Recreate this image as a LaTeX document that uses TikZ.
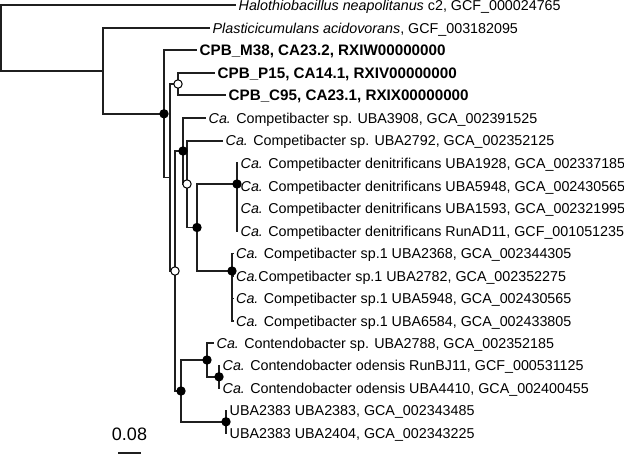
\documentclass[tikz,border=0pt]{standalone}
\usepackage{fontspec}
\setmainfont{Liberation Sans}
\begin{document}
\begin{tikzpicture}[x=1pt,y=-1pt,
		branch/.style={line width=1.6pt,black!88},
		leaf/.style={anchor=base west,inner sep=0pt,xshift=2.5pt,yshift=-5.2pt,font=\fontsize{14.3}{16}\selectfont},
		cpb/.style={leaf,font=\fontsize{15.2}{17}\selectfont\bfseries},
		supfull/.style={circle,fill=black,inner sep=0pt,minimum size=9.4pt},
		supopen/.style={circle,draw=black,fill=white,line width=1pt,inner sep=0pt,minimum size=8.4pt}]
		
		\useasboundingbox (0,0) rectangle (624,456);
		
		\coordinate (t1) at (236,5);
		\coordinate (t2) at (210,28);
		\coordinate (t3) at (197,50);
		\coordinate (t4) at (215,73);
		\coordinate (t5) at (226,95);
		\coordinate (t6) at (206,118);
		\coordinate (t7) at (223,140.7);
		\coordinate (t8) at (238,163);
		\coordinate (t9) at (238,186);
		\coordinate (t10) at (238,208.5);
		\coordinate (t11) at (238,231);
		\coordinate (t12) at (233.5,253.5);
		\coordinate (t13) at (233.5,276);
		\coordinate (t14) at (233.5,298.5);
		\coordinate (t15) at (233.5,321);
		\coordinate (t16) at (214,343);
		\coordinate (t17) at (220,365.5);
		\coordinate (t18) at (220,388);
		\coordinate (t19) at (227,410.5);
		\coordinate (t20) at (227,433);
		
		\coordinate (root) at (1,38);
		\coordinate (out) at (103,70.9);
		\coordinate (cpb) at (164,113.8);
		\coordinate (core) at (170,177.5);
		\coordinate (pair) at (178,84);
		\coordinate (ca) at (175,271);
		\coordinate (comp) at (183,151);
		\coordinate (compb) at (187,184);
		\coordinate (compc) at (197,227.5);
		\coordinate (deni) at (237,184);
		\coordinate (spone) at (232,271);
		\coordinate (cont) at (181,391);
		\coordinate (contb) at (207,360);
		\coordinate (oden) at (219,376.8);
		\coordinate (uba) at (226,421.8);
		
		\draw[branch] (root) |- (t1);
		\draw[branch] (root) |- (out);
		\draw[branch] (out) |- (t2);
		\draw[branch] (out) |- (cpb);
		\draw[branch] (cpb) |- (t3);
		\draw[branch] (cpb) |- (core);
		\draw[branch] (core) |- (pair);
		\draw[branch] (core) |- (ca);
		\draw[branch] (pair) |- (t4);
		\draw[branch] (pair) |- (t5);
		\draw[branch] (ca) |- (comp);
		\draw[branch] (ca) |- (cont);
		\draw[branch] (comp) |- (t6);
		\draw[branch] (comp) |- (compb);
		\draw[branch] (compb) |- (t7);
		\draw[branch] (compb) |- (compc);
		\draw[branch] (compc) |- (deni);
		\draw[branch] (compc) |- (spone);
		\draw[branch] (deni) |- (t8);
		\draw[branch] (deni) |- (t9);
		\draw[branch] (deni) |- (t10);
		\draw[branch] (deni) |- (t11);
		\draw[branch] (spone) |- (t12);
		\draw[branch] (spone) |- (t13);
		\draw[branch] (spone) |- (t14);
		\draw[branch] (spone) |- (t15);
		\draw[branch] (cont) |- (contb);
		\draw[branch] (cont) |- (uba);
		\draw[branch] (contb) |- (t16);
		\draw[branch] (contb) |- (oden);
		\draw[branch] (oden) |- (t17);
		\draw[branch] (oden) |- (t18);
		\draw[branch] (uba) |- (t19);
		\draw[branch] (uba) |- (t20);
		
		\node[supfull] (ncpb) at (cpb) {};
		\node[supopen] (npair) at (pair) {};
		\node[supopen] (nca) at (ca) {};
		\node[supfull] (ncomp) at (comp) {};
		\node[supopen] (ncompb) at (compb) {};
		\node[supfull] (ncompc) at (compc) {};
		\node[supfull] (ndeni) at (deni) {};
		\node[supfull] (nspone) at (spone) {};
		\node[supfull] (ncont) at (cont) {};
		\node[supfull] (ncontb) at (contb) {};
		\node[supfull] (noden) at (oden) {};
		\node[supfull] (nuba) at (uba) {};
		
		\node[leaf] (l1) at (t1) {\textit{Halothiobacillus neapolitanus} c2, GCF\_000024765};
		\node[leaf] (l2) at (t2) {\textit{Plasticicumulans acidovorans}, GCF\_003182095};
		\node[cpb] (l3) at (t3) {CPB\_M38, CA23.2, RXIW00000000};
		\node[cpb] (l4) at (t4) {CPB\_P15, CA14.1, RXIV00000000};
		\node[cpb] (l5) at (t5) {CPB\_C95, CA23.1, RXIX00000000};
		\node[leaf] (l6) at (t6) {{\itshape Ca.} Competibacter sp. UBA3908, GCA\_002391525};
		\node[leaf] (l7) at (t7) {{\itshape Ca.} Competibacter sp. UBA2792, GCA\_002352125};
		\node[leaf] (l8) at (t8) {{\itshape Ca.} Competibacter denitrificans UBA1928, GCA\_002337185};
		\node[leaf] (l9) at (t9) {{\itshape Ca.} Competibacter denitrificans UBA5948, GCA\_002430565};
		\node[leaf] (l10) at (t10) {{\itshape Ca.} Competibacter denitrificans UBA1593, GCA\_002321995};
		\node[leaf] (l11) at (t11) {{\itshape Ca.} Competibacter denitrificans RunAD11, GCF\_001051235};
		\node[leaf] (l12) at (t12) {{\itshape Ca.} Competibacter sp.1 UBA2368, GCA\_002344305};
		\node[leaf] (l13) at (t13) {{\itshape Ca.}Competibacter sp.1 UBA2782, GCA\_002352275};
		\node[leaf] (l14) at (t14) {{\itshape Ca.} Competibacter sp.1 UBA5948, GCA\_002430565};
		\node[leaf] (l15) at (t15) {{\itshape Ca.} Competibacter sp.1 UBA6584, GCA\_002433805};
		\node[leaf] (l16) at (t16) {{\itshape Ca.} Contendobacter sp. UBA2788, GCA\_002352185};
		\node[leaf] (l17) at (t17) {{\itshape Ca.} Contendobacter odensis RunBJ11, GCF\_000531125};
		\node[leaf] (l18) at (t18) {{\itshape Ca.} Contendobacter odensis UBA4410, GCA\_002400455};
		\node[leaf] (l19) at (t19) {UBA2383 UBA2383, GCA\_002343485};
		\node[leaf] (l20) at (t20) {UBA2383 UBA2404, GCA\_002343225};
		
		\coordinate (s1) at (118,453);
		\coordinate (s2) at (141,453);
		\draw[branch] (s1) -- (s2);
		\node[anchor=base,inner sep=0pt,font=\fontsize{18}{20}\selectfont] (scale) at (129.5,440) {0.08};
		\end{tikzpicture}
\end{document}
